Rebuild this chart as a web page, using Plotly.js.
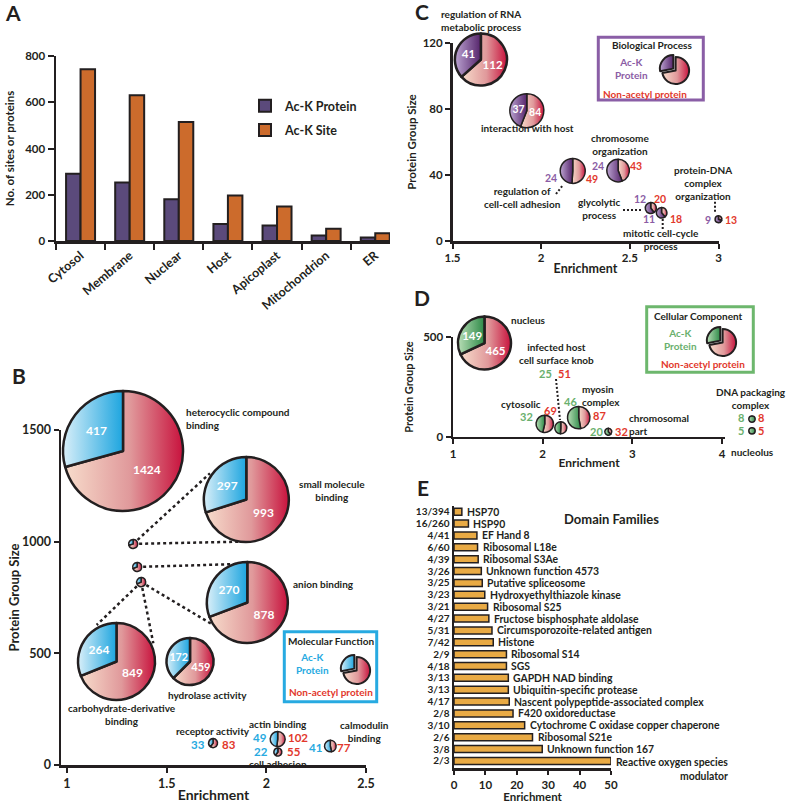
<!DOCTYPE html>
<html><head><meta charset="utf-8">
<script src="https://cdn.plot.ly/plotly-3.0.1.min.js"></script>
<style>html,body{margin:0;padding:0;background:#fff}#chart{width:787px;height:803px}</style>
</head><body><div id="chart"></div>
<script>
// ---------------- DATA ----------------
// Panel A: subcellular localisation
const locCategories = ['Cytosol','Membrane','Nuclear','Host','Apicoplast','Mitochondrion','ER'];
const acKProtein = [291, 253, 181, 73, 67, 24, 15];
const acKSite = [743, 630, 515, 197, 149, 53, 34];

// Panel B: Molecular Function
const mfTerm = ['heterocyclic compound binding','small molecule binding','anion binding','carbohydrate-derivative binding','hydrolase activity','receptor activity','actin binding','cell adhesion','calmodulin binding'];
const mfLabel = ['heterocyclic compound<br>binding','small molecule<br>binding','anion binding','carbohydrate-derivative<br>binding','hydrolase activity','receptor activity','actin binding','cell adhesion','calmodulin<br>binding'];
const mfAcK = [417, 297, 270, 264, 172, 33, 49, 22, 41];
const mfSize = [1424, 993, 878, 849, 459, 83, 102, 55, 77];
const mfEnrich = [null, 1.332, 1.352, 1.372, null, 1.733, 2.057, 2.058, 2.321];
const mfGroupY = [null, 990, 887, 819, null, 98, 116, 58, 85];

// Panel C: Biological Process
const bpTerm = ['regulation of RNA metabolic process','interaction with host','regulation of cell-cell adhesion','chromosome organization','glycolytic process','mitotic cell-cycle process','protein-DNA complex organization'];
const bpLabel = ['regulation of RNA<br>metabolic process','interaction with host','regulation of<br>cell-cell adhesion','chromosome<br>organization','glycolytic<br>process','mitotic cell-cycle<br>process','protein-DNA<br>complex<br>organization'];
const bpAcK = [41, 37, 24, 24, 12, 11, 9];
const bpSize = [112, 84, 49, 43, 20, 18, 13];
const bpEnrich = [1.66, 1.919, 2.178, 2.434, 2.618, 2.679, 3.0];
const bpGroupY = [110, 79, 42.5, 42.7, 20, 17.1, 13.2];

// Panel D: Cellular Component
const ccTerm = ['nucleus','cytosolic','infected host cell surface knob','myosin complex','chromosomal part','DNA packaging complex','nucleolus'];
const ccLabel = ['nucleus','cytosolic','infected host<br>cell surface knob','myosin<br>complex','chromosomal<br>part','DNA packaging<br>complex','nucleolus'];
const ccAcK = [149, 32, 25, 46, 20, 8, 5];
const ccSize = [465, 69, 51, 87, 32, 8, 5];
const ccEnrich = [1.351, 2.023, 2.202, 2.402, 2.732, 4.334, 4.334];
const ccGroupY = [471, 64.5, 44.5, 96, 25, 88.5, 29.5];

// Panel E: Domain families
const domainNames = ['HSP70','HSP90','EF Hand 8','Ribosomal L18e','Ribosomal S3Ae','Unknown function 4573','Putative spliceosome','Hydroxyethylthiazole kinase','Ribosomal S25','Fructose bisphosphate aldolase','Circumsporozoite-related antigen','Histone','Ribosomal S14','SGS','GAPDH NAD binding','Ubiquitin-specific protease','Nascent polypeptide-associated complex','F420 oxidoreductase','Cytochrome C oxidase copper chaperone','Ribosomal S21e','Unknown function 167','Reactive oxygen species modulator'];
const domainCounts = ['13/394','16/260','4/41','6/60','4/39','3/26','3/25','3/23','3/21','4/27','5/31','7/42','2/9','4/18','3/13','3/13','4/17','2/8','3/10','2/6','3/8','2/3'];
const domainEnrich = [2.5, 4.6, 7.3, 7.5, 7.7, 8.7, 9.0, 9.8, 10.7, 11.1, 12.1, 12.5, 16.7, 16.7, 17.3, 17.3, 17.6, 18.8, 22.5, 25.0, 28.1, 50.0];

// legend icon split (Ac-K vs rest)
const legendPieSplit = [28, 72];

// ---------------- STYLE / LAYOUT ----------------
const W = 787, H = 803;
const INK = '#231f20';
const FONT = 'Lato, "Open Sans", sans-serif';
const C_BLUE = '#27aae1', C_RED = '#e2382c', C_PURPLE = '#8b5ca5', C_GREEN = '#69b06d';
const GRADS = {
  blue:   [['0%','#d9eff9'],['100%','#1da5df']],
  red:    [['0%','#f7dccb'],['55%','#e0999b'],['100%','#c8123d']],
  purple: [['0%','#bca4d1'],['100%','#55246b']],
  green:  [['0%','#b8deb6'],['100%','#2e8a48']]
};
const SOLID = {blue:'#7ec8ec', red:'#e29a9a', purple:'#8a67a6', green:'#70b67a'};

const AX = {
  B: {x0:61, x1:366, r0:0.97, r1:2.5, yb:765, yt:430, s0:0, s1:1500},
  C: {x0:452.5, x1:718.5, r0:1.5, r1:3.0, yb:241, yt:43, s0:0, s1:120},
  D: {x0:453, x1:725, r0:1, r1:4.033, yb:436.7, yt:337.3, s0:0, s1:500}
};
function toPx(ax, x, y) {
  return [ax.x0 + (x - ax.r0) / (ax.r1 - ax.r0) * (ax.x1 - ax.x0),
          ax.yb - (y - ax.s0) / (ax.s1 - ax.s0) * (ax.yb - ax.yt)];
}

const data = [];
const annotations = [];
const shapes = [];

function fnt(size, color, extra) { return Object.assign({family: FONT, size: size, color: color || INK, weight: 700}, extra || {}); }
function pa(text, x, y, o) {
  o = o || {};
  return {text: text, x: x / W, y: 1 - y / H, xref: 'paper', yref: 'paper', showarrow: false,
    xanchor: o.xanchor || 'center', yanchor: o.yanchor || 'middle', align: o.align || 'center',
    font: fnt(o.size || 10, o.color), borderpad: 0};
}
// acK slice sits counter-clockwise from 12 o'clock (left side), rest fills the right side
function pie(acK, rest, texts, scheme, cx, cy, r, o) {
  o = o || {};
  const pull = o.pull || 0;
  const maxPull = Array.isArray(pull) ? Math.max.apply(null, pull) : pull;
  const half = r * (1 + maxPull);
  const schemes = ['red', scheme];
  return {
    type: 'pie', values: [rest, acK], sort: false, direction: 'clockwise', rotation: 0,
    domain: {x: [(cx - half) / W, (cx + half) / W], y: [(H - cy - half) / H, (H - cy + half) / H]},
    marker: {colors: schemes.map(s => SOLID[s]), line: {color: INK, width: o.lw || (r > 20 ? 2.5 : 1.5)}},
    text: texts ? [texts[1], texts[0]] : [], textinfo: texts ? 'text' : 'none', textposition: 'inside',
    insidetextorientation: 'horizontal',
    insidetextfont: fnt(o.fs || 11.5, '#ffffff'),
    pull: pull, showlegend: false, hoverinfo: 'skip', meta: schemes
  };
}

// ---------- Panel A bars ----------
data.push({type: 'bar', name: 'Ac-K Protein', x: locCategories, y: acKProtein, xaxis: 'x', yaxis: 'y',
  marker: {color: '#5b4a7b', line: {color: INK, width: 2}}, legendgroup: 'p', hoverinfo: 'skip'});
data.push({type: 'bar', name: 'Ac-K Site', x: locCategories, y: acKSite, xaxis: 'x', yaxis: 'y',
  marker: {color: '#cc6b2c', line: {color: INK, width: 2}}, legendgroup: 's', hoverinfo: 'skip'});

// axis carriers for scatter panels
['2','3','4'].forEach(k => data.push({type: 'scatter', x: [], y: [], xaxis: 'x' + k, yaxis: 'y' + k, showlegend: false, hoverinfo: 'skip'}));

// ---------- Panel E bars ----------
data.push({type: 'bar', orientation: 'h', y: domainNames, x: domainEnrich, xaxis: 'x5', yaxis: 'y5',
  marker: {color: '#e9aa44', line: {color: INK, width: 1.5}}, showlegend: false, hoverinfo: 'skip'});
const wrapped = {'Reactive oxygen species modulator': 'Reactive oxygen species<br>modulator'};
domainNames.forEach((n, i) => {
  const wrap = wrapped[n];
  annotations.push({text: wrap || n, x: domainEnrich[i], y: n, xref: 'x5', yref: 'y5', showarrow: false,
    xanchor: 'left', yanchor: wrap ? 'top' : 'middle', align: wrap ? 'right' : 'left', xshift: 3, yshift: wrap ? 7 : 0,
    font: fnt(10.4)});
});

// ---------- Panel B pies ----------
const mfInset = [{cx:123, cy:451, r:60}, {cx:246.3, cy:499.5, r:42.5}, {cx:247.3, cy:602.5, r:40.5}, {cx:116.5, cy:661.5, r:38.5}, {cx:190, cy:661.5, r:23.5}];
const mfInsetLabel = [[185, 418.5, 'left'], [332, 490, 'center'], [292, 584, 'left'], [122, 714, 'center'], [207.5, 695, 'center']];
const mfDotR = [0, 4.5, 4.5, 4.5, 0, 4.5, 7.5, 4, 5.8];
const mfNumOff = {5: [-6.7, 1.5, 8, 1.5], 6: [-9.7, -2, 9, -2], 7: [-9, -1, 7.7, -1], 8: [-7.8, 1, 5.5, 1]};
const mfNameOff = {5: [0, -12], 6: [0, -15.5], 7: [0, 11.8], 8: [34, -15]};
// connectors from data point (term index) to inset edge (px)
const mfConnect = [[1, 210, 473.3], [1, 240, 541.7], [2, 240, 564], [3, 96.7, 625], [3, 153.3, 643.3], [3, 213.3, 625]];

mfConnect.forEach(c => {
  const p = toPx(AX.B, mfEnrich[c[0]], mfGroupY[c[0]]);
  shapes.push({type: 'line', xref: 'paper', yref: 'paper', x0: p[0] / W, y0: 1 - p[1] / H, x1: c[1] / W, y1: 1 - c[2] / H,
    line: {color: INK, width: 2.5, dash: '3px,3px'}, layer: 'below'});
});
mfInset.forEach((s, i) => {
  data.push(pie(mfAcK[i], mfSize[i] - mfAcK[i], [String(mfAcK[i]), String(mfSize[i])], 'blue', s.cx, s.cy, s.r, {fs: s.r > 30 ? 12 : 11}));
  const L = mfInsetLabel[i];
  annotations.push(pa(mfLabel[i], L[0], L[1], {xanchor: L[2], align: L[2], size: 10}));
});
mfTerm.forEach((t, i) => {
  if (mfEnrich[i] == null) return;
  const p = toPx(AX.B, mfEnrich[i], mfGroupY[i]);
  data.push(pie(mfAcK[i], mfSize[i] - mfAcK[i], null, 'blue', p[0], p[1], mfDotR[i], {lw: 1.5}));
  if (mfNumOff[i]) {
    const o = mfNumOff[i];
    annotations.push(pa(String(mfAcK[i]), p[0] + o[0], p[1] + o[1], {xanchor: 'right', size: 11.5, color: C_BLUE}));
    annotations.push(pa(String(mfSize[i]), p[0] + o[2], p[1] + o[3], {xanchor: 'left', size: 11.5, color: C_RED}));
  }
  if (mfNameOff[i]) {
    annotations.push(pa(mfLabel[i], p[0] + mfNameOff[i][0], p[1] + mfNameOff[i][1], {size: 10}));
  }
});

// ---------- Panel C pies ----------
const bpR = [26, 17, 12.5, 11.3, 5.5, 5.3, 3.4];
const bpNameAt = [[481.7, 21, 'center'], [527.5, 128.3, 'center'], [522, 197.5, 'center'], [620, 144.5, 'center'], [599, 208.3, 'center'], [661, 240, 'center'], [703, 182.5, 'center']];
const bpNumOff = {2: [-14.5, 7, 12.2, 8], 3: [-13, -5, 11, -5], 4: [-3.8, -8.7, 2.2, -8.7], 5: [-5.3, 6.5, 7, 6.5], 6: [-6.6, 0.7, 5, 0.7]};
const bpLeaders = [[556, 194, 563, 185], [623, 210, 643, 210], [662.7, 219, 662.7, 230], [715, 201.7, 715, 213.3]];
bpTerm.forEach((t, i) => {
  const p = toPx(AX.C, bpEnrich[i], bpGroupY[i]);
  const inside = bpR[i] > 15;
  data.push(pie(bpAcK[i], bpSize[i] - bpAcK[i], inside ? [String(bpAcK[i]), String(bpSize[i])] : null, 'purple', p[0], p[1], bpR[i], {fs: bpR[i] > 20 ? 11.5 : 10.5}));
  if (bpNumOff[i]) {
    const o = bpNumOff[i];
    annotations.push(pa(String(bpAcK[i]), p[0] + o[0], p[1] + o[1], {xanchor: 'right', size: 10.5, color: C_PURPLE}));
    annotations.push(pa(String(bpSize[i]), p[0] + o[2], p[1] + o[3], {xanchor: 'left', size: 10.5, color: C_RED}));
  }
  const L = bpNameAt[i];
  annotations.push(pa(bpLabel[i], L[0], L[1], {xanchor: L[2], size: 10}));
});
bpLeaders.forEach(l => shapes.push({type: 'line', xref: 'paper', yref: 'paper', x0: l[0] / W, y0: 1 - l[1] / H, x1: l[2] / W, y1: 1 - l[3] / H, line: {color: INK, width: 2, dash: '2px,2px'}}));

// ---------- Panel D pies ----------
const ccR = [26.5, 8.7, 6, 11.2, 3.5, 3.2, 3.2];
const ccNameAt = [[510, 320, 'left'], [520.5, 404, 'center'], [556, 353.5, 'center'], [581, 395, 'left'], [628, 424, 'left'], [751, 398.3, 'center'], [752.5, 451.7, 'center']];
const ccNumOff = {1: [-10.7, -7, -1.4, -13.5], 2: [-7.5, -54.5, -3.5, -54.5], 3: [-0.4, -16.5, 13, -2.5], 4: [-4, 0, 6, 0], 5: [-7, -1.5, 4.7, -1.5], 6: [-7, 0, 4.7, 0]};
ccTerm.forEach((t, i) => {
  const p = toPx(AX.D, ccEnrich[i], ccGroupY[i]);
  const inside = ccR[i] > 15;
  data.push(pie(ccAcK[i], ccSize[i] - ccAcK[i], inside ? [String(ccAcK[i]), String(ccSize[i])] : null, 'green', p[0], p[1], ccR[i], {fs: 11.5}));
  if (ccNumOff[i]) {
    const o = ccNumOff[i];
    annotations.push(pa(String(ccAcK[i]), p[0] + o[0], p[1] + o[1], {xanchor: 'right', size: 11, color: C_GREEN}));
    annotations.push(pa(String(ccSize[i]), p[0] + o[2], p[1] + o[3], {xanchor: 'left', size: 11, color: C_RED}));
  }
  const L = ccNameAt[i];
  annotations.push(pa(ccLabel[i], L[0], L[1], {xanchor: L[2], align: L[2], size: 10}));
});
shapes.push({type: 'line', xref: 'paper', yref: 'paper', x0: 556 / W, y0: 1 - 379 / H, x1: 560 / W, y1: 1 - 420 / H, line: {color: INK, width: 2, dash: '2px,2px'}});

// ---------- legend boxes ----------
const legendBoxes = [
  {title: 'Molecular Function', scheme: 'blue', color: C_BLUE, box: [284.3, 631.7, 376.7, 701.7], t: [331, 641], k: [312, 663], pie: [356, 670], n: [331, 692]},
  {title: 'Biological Process', scheme: 'purple', color: '#8a5ea6', tcolor: C_PURPLE, box: [598.3, 37.3, 703.3, 100], t: [652, 45], k: [631, 68], pie: [675, 70], n: [645, 94]},
  {title: 'Cellular Component', scheme: 'green', color: '#6db76d', tcolor: C_GREEN, box: [646.7, 306.7, 753.3, 372.3], t: [698.3, 316], k: [680, 339], pie: [722, 342], n: [703.3, 364.3]}
];
legendBoxes.forEach(b => {
  shapes.push({type: 'rect', xref: 'paper', yref: 'paper', x0: b.box[0] / W, x1: b.box[2] / W, y0: 1 - b.box[1] / H, y1: 1 - b.box[3] / H,
    line: {color: b.color, width: 3}, fillcolor: 'rgba(0,0,0,0)'});
  annotations.push(pa(b.title, b.t[0], b.t[1], {size: 10}));
  annotations.push(pa('Ac-K<br>Protein', b.k[0], b.k[1], {size: 10, color: b.tcolor || b.color}));
  annotations.push(pa('Non-acetyl protein', b.n[0], b.n[1], {size: 10, color: C_RED}));
  data.push(pie(legendPieSplit[0], legendPieSplit[1], null, b.scheme, b.pie[0], b.pie[1], 13.5, {pull: [0.06, 0.16], lw: 2}));
});

// ---------- panel letters & titles ----------
[['A', 13, 13], ['B', 19, 375], ['C', 422, 12], ['D', 422, 297.5], ['E', 423, 487.5]].forEach(l => annotations.push(pa(l[0], l[1], l[2], {size: 21})));
annotations.push(pa('Domain Families', 611, 519.3, {size: 13}));

// ---------------- AXES ----------------
function axBase(extra) {
  return Object.assign({showline: true, linecolor: INK, linewidth: 2.5, ticks: 'outside', ticklen: 5, tickwidth: 2, tickcolor: INK,
    showgrid: false, zeroline: false, fixedrange: true, automargin: false}, extra);
}
const layout = {
  width: W, height: H, margin: {l: 0, r: 0, t: 0, b: 0}, paper_bgcolor: '#fff', plot_bgcolor: 'rgba(0,0,0,0)',
  font: {family: FONT, size: 11, color: INK, weight: 700},
  barmode: 'group', bargap: 0.41, bargroupgap: 0,
  showlegend: true,
  legend: {x: 245 / W, y: 1 - 91 / H, xanchor: 'left', yanchor: 'top', bgcolor: 'rgba(0,0,0,0)', font: fnt(12.5), traceorder: 'grouped', tracegroupgap: 5, itemwidth: 30},
  xaxis: axBase({domain: [56 / W, 390 / W], anchor: 'y', type: 'category', range: [-0.5, 6.3], tickson: 'boundaries', tickangle: -40, ticklen: 6, tickfont: fnt(12.5)}),
  yaxis: axBase({domain: [(H - 241) / H, (H - 56) / H], anchor: 'x', range: [0, 800], tickvals: [0, 200, 400, 600, 800], ticklen: 6, tickfont: fnt(11.5),
    title: {text: 'No. of sites or proteins', font: fnt(11.5), standoff: 8}}),
  xaxis2: axBase({domain: [AX.B.x0 / W, AX.B.x1 / W], anchor: 'y2', type: 'linear', range: [AX.B.r0, AX.B.r1], tickvals: [1, 1.5, 2, 2.5], ticktext: ['1', '1.5', '2', '2.5'], tickfont: fnt(12.5),
    title: {text: 'Enrichment', font: fnt(14), standoff: 1}}),
  yaxis2: axBase({domain: [(H - AX.B.yb) / H, (H - AX.B.yt) / H], anchor: 'x2', type: 'linear', range: [0, 1500], tickvals: [0, 500, 1000, 1500], tickfont: fnt(12.5),
    title: {text: 'Protein Group Size', font: fnt(13), standoff: 0}}),
  xaxis3: axBase({domain: [AX.C.x0 / W, AX.C.x1 / W], anchor: 'y3', type: 'linear', range: [AX.C.r0, AX.C.r1], tickvals: [1.5, 2, 2.5, 3], ticktext: ['1.5', '2', '2.5', '3'], tickfont: fnt(11.5),
    title: {text: 'Enrichment', font: fnt(12.5), standoff: 1}}),
  yaxis3: axBase({domain: [(H - AX.C.yb) / H, (H - AX.C.yt) / H], anchor: 'x3', type: 'linear', range: [0, 120], tickvals: [0, 40, 80, 120], tickfont: fnt(11.5),
    title: {text: 'Protein Group Size', font: fnt(11.5), standoff: 4}}),
  xaxis4: axBase({domain: [AX.D.x0 / W, AX.D.x1 / W], anchor: 'y4', type: 'linear', range: [AX.D.r0, AX.D.r1], tickvals: [1, 2, 3, 4], tickfont: fnt(11.5),
    title: {text: 'Enrichment', font: fnt(12), standoff: 0}}),
  yaxis4: axBase({domain: [(H - AX.D.yb) / H, (H - AX.D.yt) / H], anchor: 'x4', type: 'linear', range: [0, 500], tickvals: [0, 500], tickfont: fnt(11.5),
    title: {text: 'Protein Group Size', font: fnt(11), standoff: 8}}),
  xaxis5: axBase({domain: [454 / W, 611 / W], anchor: 'y5', type: 'linear', range: [0, 50], tickvals: [0, 10, 20, 30, 40, 50], ticklen: 4, tickfont: fnt(11.5),
    title: {text: 'Enrichment', font: fnt(11.5), standoff: 2}}),
  yaxis5: axBase({domain: [(H - 768.3) / H, (H - 505.8) / H], anchor: 'x5', type: 'category', categoryorder: 'array', categoryarray: domainNames,
    range: [21.62, -0.5], tickvals: domainNames, ticktext: domainCounts, ticks: '', tickfont: fnt(10)}),
  annotations: annotations,
  shapes: shapes
};

Plotly.newPlot('chart', data, layout, {staticPlot: true, displayModeBar: false}).then(gd => {
  const NS = 'http://www.w3.org/2000/svg';
  const svg = gd.querySelector('svg.main-svg');
  let defs = svg.querySelector('defs');
  if (!defs) { defs = document.createElementNS(NS, 'defs'); svg.insertBefore(defs, svg.firstChild); }
  Object.keys(GRADS).forEach(k => {
    const lg = document.createElementNS(NS, 'linearGradient');
    lg.setAttribute('id', 'grad-' + k);
    lg.setAttribute('x1', '0'); lg.setAttribute('y1', '0'); lg.setAttribute('x2', '1'); lg.setAttribute('y2', '0');
    GRADS[k].forEach(s => {
      const st = document.createElementNS(NS, 'stop');
      st.setAttribute('offset', s[0]); st.setAttribute('stop-color', s[1]);
      lg.appendChild(st);
    });
    defs.appendChild(lg);
  });
  gd.querySelectorAll('.pielayer g.slice').forEach(sl => {
    const cd = sl.parentNode.__data__;
    const pt = sl.__data__;
    if (!cd || !pt) return;
    const tr = (cd[0] || cd).trace;
    const schemes = tr && tr.meta;
    const path = sl.querySelector('path.surface');
    if (schemes && path && schemes[pt.i]) path.style.fill = 'url(#grad-' + schemes[pt.i] + ')';
  });
});
</script>
</body></html>
